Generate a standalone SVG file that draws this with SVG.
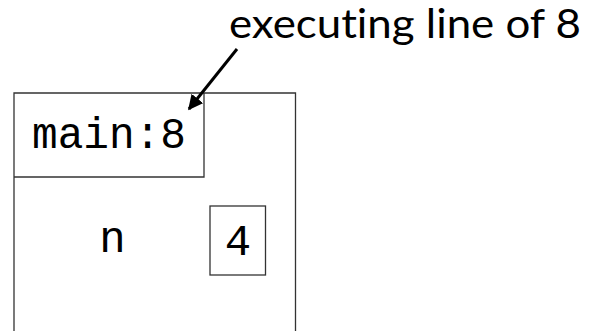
<svg xmlns="http://www.w3.org/2000/svg" width="590" height="331" viewBox="0 0 590 331">
  <defs>
    <style>
      .frame { fill: none; stroke: #333; stroke-width: 1.3; }
      .code { font-family: "Liberation Mono", "DejaVu Sans Mono", monospace; fill: #000; }
      .note { font-family: "Lato", "Open Sans", sans-serif; fill: #000; font-variant-ligatures: none; }
      .conn { stroke: #000; stroke-width: 3; fill: none; }
    </style>
    <marker id="arrowhead" viewBox="0 0 10 10" refX="9" refY="5" markerWidth="5" markerHeight="5" orient="auto" markerUnits="strokeWidth">
      <path d="M0,0 L10,5 L0,10 Z" fill="#000"/>
    </marker>
  </defs>

  <rect width="590" height="331" fill="#fff"/>

  <!-- stack frame, open at the bottom -->
  <g id="frame-main">
    <path class="frame" d="M14,340 V93 H295.5 V340"/>
  </g>

  <!-- frame label box -->
  <g id="label-main">
    <path class="frame" d="M14,177 H204 V93"/>
    <text class="code" x="32" y="148" font-size="44" textLength="154" lengthAdjust="spacingAndGlyphs">main:8</text>
  </g>

  <!-- variable n -->
  <g id="var-n">
    <text class="code" x="112.5" y="252" font-size="44" text-anchor="middle">n</text>
  </g>

  <!-- value box holding 4 -->
  <g id="value-n">
    <rect class="frame" x="210" y="206" width="55.5" height="69"/>
    <text class="code" x="238" y="255" font-size="44" text-anchor="middle">4</text>
  </g>

  <!-- annotation -->
  <g id="note">
    <text class="note" x="229" y="38" font-size="40" textLength="352" lengthAdjust="spacingAndGlyphs">executing line of 8</text>
  </g>

  <g id="connectors">
    <line class="conn" x1="237" y1="49" x2="189" y2="109" marker-end="url(#arrowhead)"/>
  </g>
</svg>
